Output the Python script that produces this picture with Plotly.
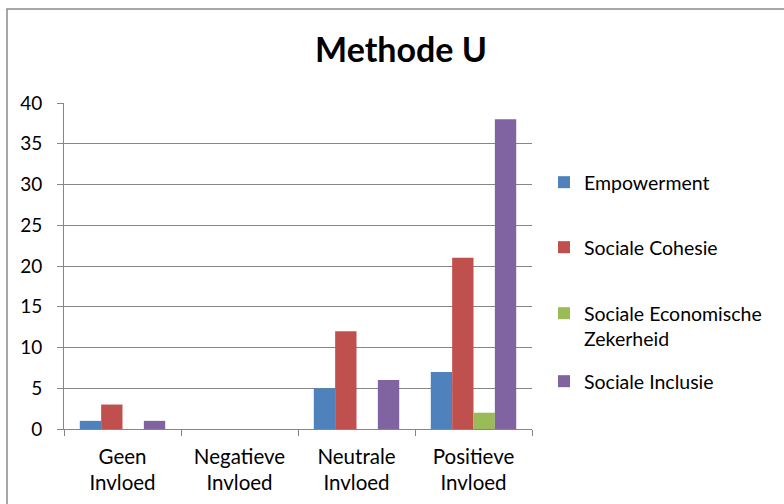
import plotly.graph_objects as go

categories = ["Geen<br>Invloed", "Nega\u200ctieve<br>Invloed", "Neutrale<br>Invloed", "Positieve<br>Invloed"]
series_names = ["Empowerment", "Sociale Cohesie", "Sociale Economische<br>Zekerheid", "Sociale Inclusie"]
empowerment = [1, 0, 5, 7]
sociale_cohesie = [3, 0, 12, 21]
sociale_economische_zekerheid = [0, 0, 0, 2]
sociale_inclusie = [1, 0, 6, 38]
colors = ["#4F81BD", "#C0504D", "#9BBB59", "#8064A2"]
y_ticks = [0, 5, 10, 15, 20, 25, 30, 35, 40]

W, H = 784, 504
L, R, T, B = 64, 532, 103, 429

def px_x(px):
    return (px - L) / (R - L)

def px_y(py):
    return (B - py) / (B - T)

FONT = "Lato, Carlito, Calibri, sans-serif"

values = [empowerment, sociale_cohesie, sociale_economische_zekerheid, sociale_inclusie]
legend_ids = ["legend", "legend2", "legend3", "legend4"]
legend_tops = [163, 228, 294, 362]

fig = go.Figure()
for name, vals, col, lid in zip(series_names, values, colors, legend_ids):
    fig.add_trace(go.Bar(
        x=categories, y=vals, name=name,
        marker=dict(color=col, line=dict(width=0)),
        legend=lid,
    ))

legend_common = dict(
    xref="paper", yref="paper", xanchor="left", yanchor="top",
    font=dict(family=FONT, size=19.5, color="#000000"),
    bgcolor="rgba(0,0,0,0)", borderwidth=0, valign="top",
    itemclick=False, itemdoubleclick=False,
)

layout_legends = {}
for lid, top in zip(legend_ids, legend_tops):
    d = dict(legend_common)
    d.update(x=px_x(544), y=px_y(top))
    layout_legends[lid] = d

fig.update_layout(
    width=W, height=H,
    margin=dict(l=L, r=W - R, t=T, b=H - B, pad=0),
    paper_bgcolor="#FFFFFF", plot_bgcolor="#FFFFFF",
    barmode="group", bargap=0.27, bargroupgap=0,
    font=dict(family=FONT, size=19, color="#000000"),
    title=dict(text="<b>Methode U</b>", font=dict(family=FONT, size=34, color="#000000"),
               x=px_x(401), xref="paper", xanchor="center",
               y=1 - 50 / H, yref="container", yanchor="middle"),
    showlegend=True,
    xaxis=dict(
        showgrid=False, showline=True, linecolor="#868686", linewidth=1,
        ticks="outside", tickson="boundaries", ticklen=6, tickcolor="#868686",
        tickfont=dict(family=FONT, size=20.5, color="#000000"),
        ticklabelstandoff=9, automargin=False,
        fixedrange=True,
    ),
    yaxis=dict(
        range=[0, 40], tickvals=y_ticks, showgrid=True, gridcolor="#868686", gridwidth=1,
        showline=True, linecolor="#868686", linewidth=1, zeroline=False,
        ticks="outside", ticklen=6, tickcolor="#868686",
        tickfont=dict(family=FONT, size=19, color="#000000"),
        ticklabelstandoff=11, automargin=False,
        fixedrange=True,
    ),
    shapes=[dict(type="rect", xref="paper", yref="paper",
                 x0=px_x(7), x1=px_x(900), y0=px_y(9), y1=px_y(600),
                 line=dict(color="#8a8a8a", width=1.5), fillcolor="rgba(0,0,0,0)", layer="below")],
    **layout_legends,
)

fig.write_html("out.html", config={"displayModeBar": False},
               post_script="document.body.style.margin='0';document.body.style.overflow='hidden';")
